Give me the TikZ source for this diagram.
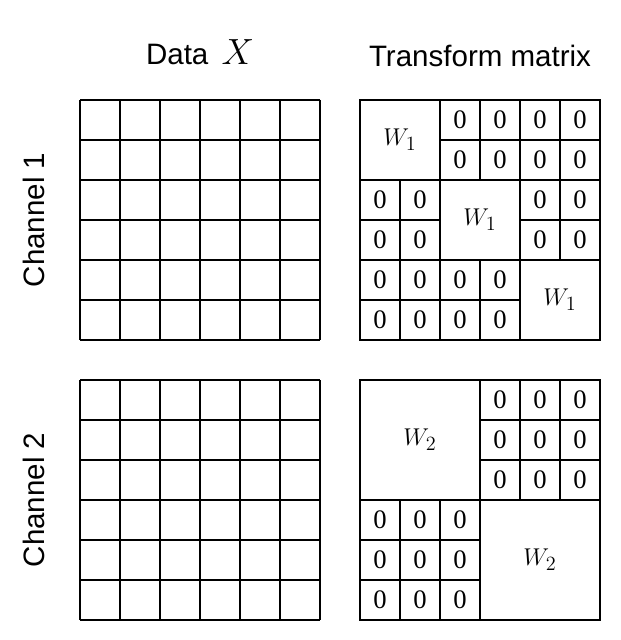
\documentclass[tikz,border=0pt]{standalone}
\usepackage{fontspec}
\setmainfont{Liberation Serif}
\newfontfamily\lab{Liberation Sans}
\begin{document}
\begin{tikzpicture}[x=1cm,y=-1cm,line width=1pt,
  lbl/.style={font=\lab\fontsize{21}{25}\selectfont},
  zero/.style={draw,minimum size=1cm,inner sep=0pt,font=\fontsize{19}{22}\selectfont},
  wblk/.style={inner sep=0pt,font=\fontsize{19}{22}\selectfont}]
\useasboundingbox (0,0) rectangle (15.5,16);
\node[lbl] (t1) at (5,1.3) {Data \,$\mathbf{}\scalebox{1.25}{$X$}$};
\node[lbl] (t2) at (12,1.4) {Transform matrix};
\node[lbl,rotate=90] (c1) at (0.85,5.5) {Channel 1};
\node[lbl,rotate=90] (c2) at (0.85,12.5) {Channel 2};
% data grids
\foreach \y in {2.5,9.5}{
  \foreach \i in {0,...,6}{
    \draw (2+\i,\y) -- (2+\i,\y+6);
    \draw (2,\y+\i) -- (8,\y+\i);
  }
}
% matrix 1
\draw (9,2.5) rectangle (15,8.5);
\foreach \c/\r in {2/0,3/0,4/0,5/0,2/1,3/1,4/1,5/1,0/2,1/2,4/2,5/2,0/3,1/3,4/3,5/3,0/4,1/4,2/4,3/4,0/5,1/5,2/5,3/5}
  \node[zero] (za\c\r) at (9.5+\c,3+\r) {0};
\node[wblk] (wa1) at (10,3.5) {$W_1$};
\node[wblk] (wa2) at (12,5.5) {$W_1$};
\node[wblk] (wa3) at (14,7.5) {$W_1$};
% matrix 2
\draw (9,9.5) rectangle (15,15.5);
\foreach \c/\r in {3/0,4/0,5/0,3/1,4/1,5/1,3/2,4/2,5/2,0/3,1/3,2/3,0/4,1/4,2/4,0/5,1/5,2/5}
  \node[zero] (zb\c\r) at (9.5+\c,10+\r) {0};
\node[wblk] (wb1) at (10.5,11) {$W_2$};
\node[wblk] (wb2) at (13.5,14) {$W_2$};
\end{tikzpicture}
\end{document}
